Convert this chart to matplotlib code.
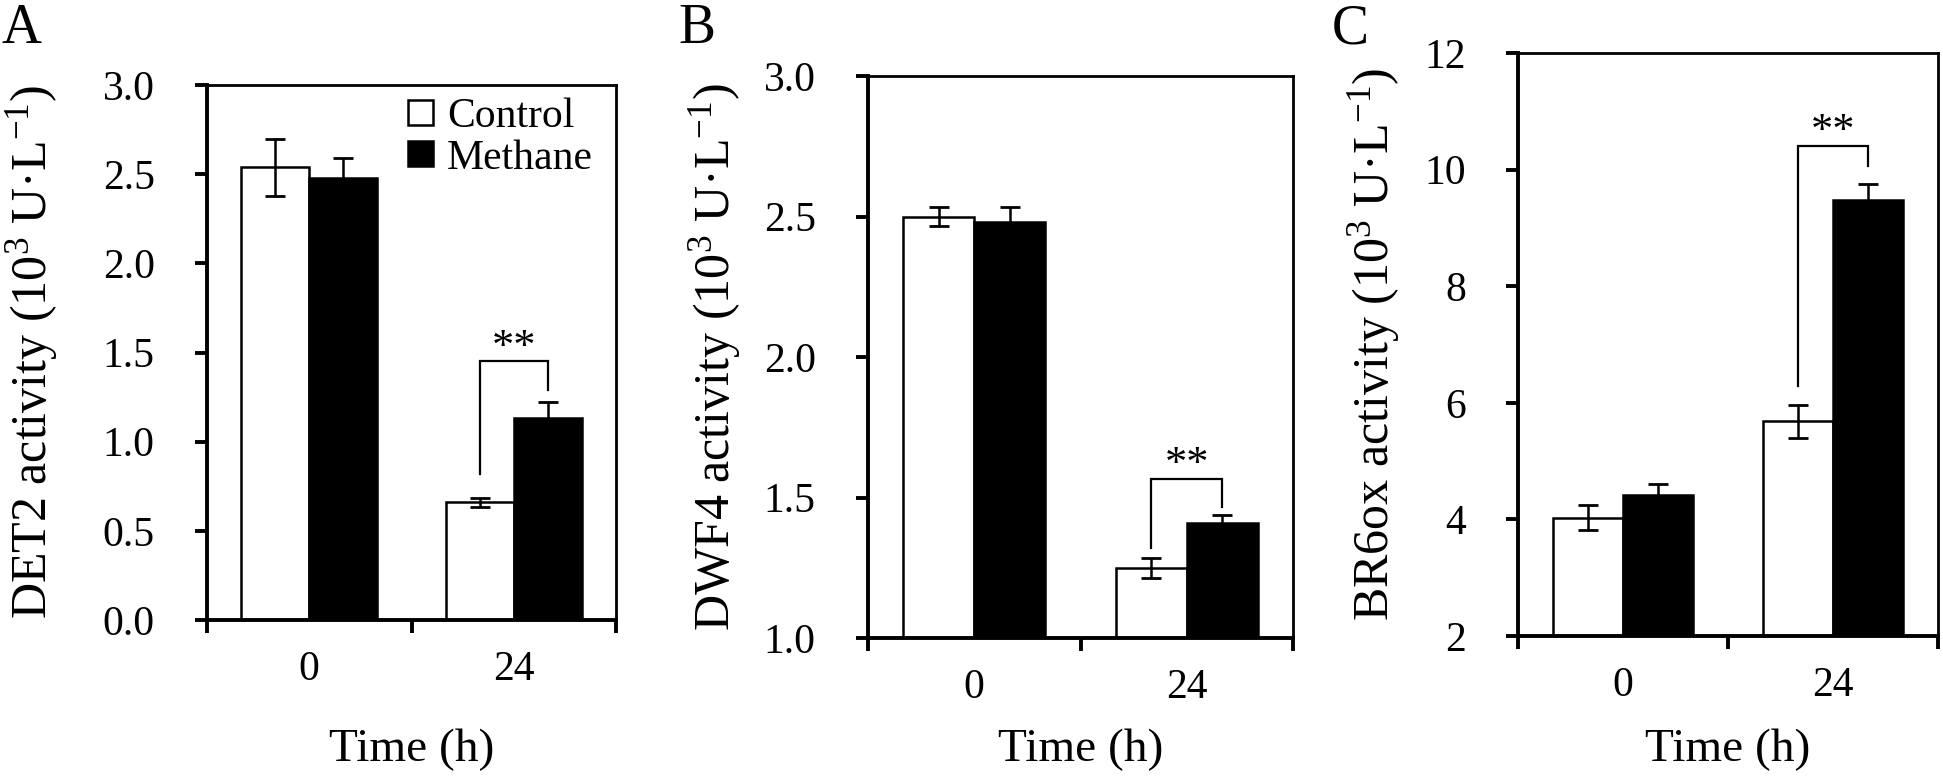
import matplotlib
matplotlib.use("Agg")
import matplotlib.pyplot as plt
import numpy as np

plt.rcParams['font.family'] = ['Liberation Serif', 'DejaVu Serif']
plt.rcParams['mathtext.fontset'] = 'custom'
plt.rcParams['mathtext.rm'] = 'Liberation Serif'
plt.rcParams['mathtext.it'] = 'Liberation Serif:italic'

# data (10^3 U/L)
times = ['0', '24']
series = ['Control', 'Methane']

det2_ctrl = [2.54, 0.66]
det2_ctrl_err = [0.16, 0.025]
det2_meth = [2.48, 1.13]
det2_meth_err = [0.11, 0.09]

dwf4_ctrl = [2.50, 1.25]
dwf4_ctrl_err = [0.035, 0.036]
dwf4_meth = [2.48, 1.41]
dwf4_meth_err = [0.053, 0.027]

br6ox_ctrl = [4.03, 5.68]
br6ox_ctrl_err = [0.22, 0.29]
br6ox_meth = [4.42, 9.47]
br6ox_meth_err = [0.19, 0.28]

# significance brackets at 24 h: (bracket level, left leg end, right leg end)
det2_sig = (1.45, 0.82, 1.29)
dwf4_sig = (1.565, 1.32, 1.467)
br6ox_sig = (10.41, 6.28, 10.07)

W, H = 1943, 784
fig = plt.figure(figsize=(W / 100, H / 100), dpi=100)


def add_axes_px(left, top, right, bottom):
    return fig.add_axes([left / W, 1 - bottom / H, (right - left) / W, (bottom - top) / H])


panels = [
    dict(box=(207, 85, 616, 620), ctrl=det2_ctrl, ctrl_err=det2_ctrl_err,
         meth=det2_meth, meth_err=det2_meth_err, sig=det2_sig,
         ylim=(0, 3), yticks=np.arange(0, 3.01, 0.5), fmt='{:.1f}',
         ylabel='DET2 activity (10$^{3}$ U·L$^{-1}$)', letter='A', letter_x=2,
         ylabel_right=60),
    dict(box=(868, 76, 1293, 638), ctrl=dwf4_ctrl, ctrl_err=dwf4_ctrl_err,
         meth=dwf4_meth, meth_err=dwf4_meth_err, sig=dwf4_sig,
         ylim=(1, 3), yticks=np.arange(1, 3.01, 0.5), fmt='{:.1f}',
         ylabel='DWF4 activity (10$^{3}$ U·L$^{-1}$)', letter='B', letter_x=678,
         ylabel_right=743),
    dict(box=(1518, 53, 1938, 636), ctrl=br6ox_ctrl, ctrl_err=br6ox_ctrl_err,
         meth=br6ox_meth, meth_err=br6ox_meth_err, sig=br6ox_sig,
         ylim=(2, 12), yticks=np.arange(2, 12.1, 2), fmt='{:.0f}',
         ylabel='BR6ox activity (10$^{3}$ U·L$^{-1}$)', letter='C', letter_x=1332,
         ylabel_right=1402),
]

x = np.arange(len(times))
bw = 0.333

for i, p in enumerate(panels):
    left, top, right, bottom = p['box']
    ax = add_axes_px(left, top, right, bottom)
    ekw = dict(elinewidth=1.8, capthick=2.0, ecolor='black')
    ax.bar(x - bw / 2, p['ctrl'], bw, yerr=p['ctrl_err'], capsize=7.5,
           color='white', edgecolor='black', linewidth=1.8, error_kw=ekw, label=series[0])
    ax.bar(x + bw / 2, p['meth'], bw, yerr=p['meth_err'], capsize=7.5,
           color='black', edgecolor='black', linewidth=1.8, error_kw=ekw, label=series[1])

    # significance bracket
    yb, yl, yr = p['sig']
    ax.plot([1 - bw / 2, 1 - bw / 2, 1 + bw / 2, 1 + bw / 2], [yl, yb, yb, yr],
            color='black', lw=1.6, solid_joinstyle='miter')
    ax.annotate('**', (1, yb), xytext=(0, 2), textcoords='offset points',
                ha='center', va='baseline', fontsize=32)

    ax.set_xlim(-0.5, 1.5)
    ax.set_ylim(*p['ylim'])
    ax.set_yticks(p['yticks'])
    ax.set_yticklabels([p['fmt'].format(v) for v in p['yticks']])
    ax.set_xticks([-0.5, 0.5, 1.5])
    ax.set_xticklabels([])
    ax.set_xticks(x, minor=True)
    ax.set_xticklabels(times, minor=True)
    ax.tick_params(axis='x', which='major', direction='out', length=9.5, width=2.8)
    ax.tick_params(axis='x', which='minor', length=0, pad=22, labelsize=30)
    ax.tick_params(axis='y', direction='out', length=8.6, width=2.8, pad=29, labelsize=30)

    for s in ['left', 'bottom']:
        ax.spines[s].set_linewidth(2.8)
    for s in ['top', 'right']:
        ax.spines[s].set_linewidth(2.0)

    h = bottom - top
    wd = right - left
    ax.set_xlabel('Time (h)', fontsize=34)
    ax.xaxis.set_label_coords(0.5, (bottom - 729) / h)
    ax.set_ylabel(p['ylabel'], fontsize=36)
    ax.yaxis.set_label_coords((p['ylabel_right'] - left) / wd, 0.5)

    fig.text(p['letter_x'] / W, 1 - 43 / H, p['letter'], fontsize=40,
             ha='left', va='baseline')

    if i == 0:
        ax.legend(loc='upper right', bbox_to_anchor=(0.944, 0.977), frameon=False,
                  fontsize=30, handlelength=0.6, handleheight=0.55, handletextpad=0.35,
                  labelspacing=0.08, borderaxespad=0, borderpad=0)

fig.savefig('out.png', dpi=100)
